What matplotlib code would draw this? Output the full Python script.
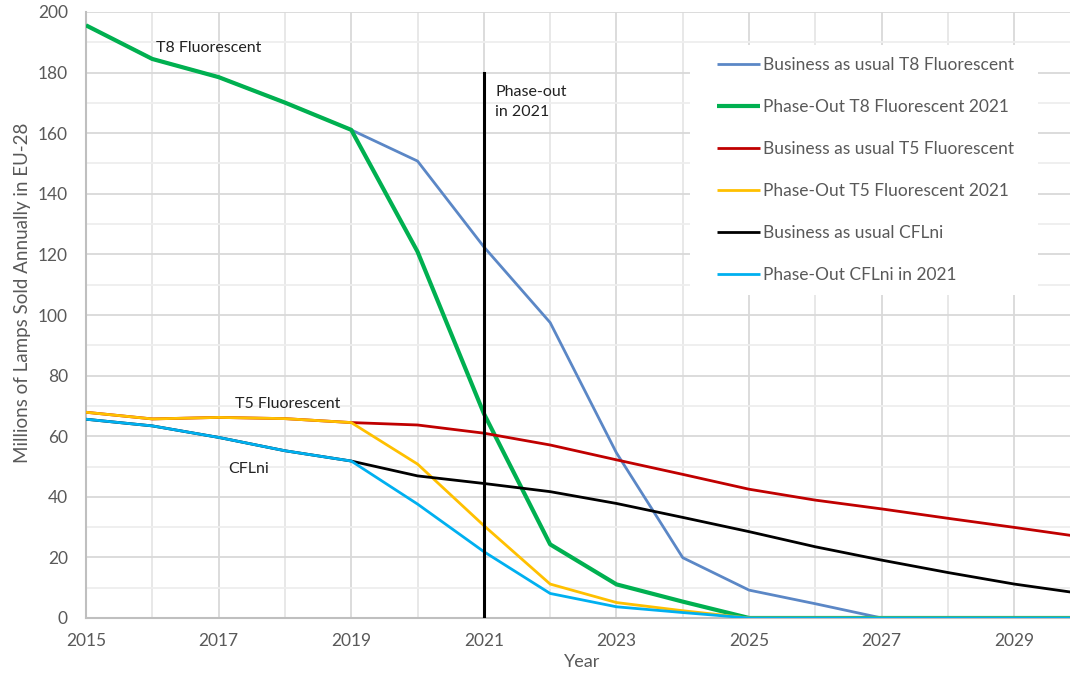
import matplotlib
matplotlib.use("Agg")
import matplotlib.pyplot as plt
from matplotlib.ticker import MultipleLocator, FixedLocator
from matplotlib.patches import Rectangle

years = list(range(2015, 2031))
bau_t8 = [195.6, 184.5, 178.5, 170.1, 161.1, 150.8, 122.5, 97.5, 54.5, 19.9, 9.2, 4.7, 0, 0, 0, 0]
po_t8 = [195.6, 184.5, 178.5, 170.1, 161.1, 120.9, 67.5, 24.3, 11.1, 5.4, 0, 0, 0, 0, 0, 0]
bau_t5 = [67.9, 65.7, 66.2, 65.8, 64.5, 63.7, 61.0, 57.1, 52.2, 47.4, 42.5, 38.9, 36.0, 32.9, 29.9, 26.8]
po_t5 = [67.9, 65.7, 66.2, 65.8, 64.5, 50.8, 30.5, 11.2, 5.1, 2.4, 0, 0, 0, 0, 0, 0]
bau_cfl = [65.6, 63.4, 59.6, 55.2, 51.8, 46.9, 44.4, 41.7, 37.8, 33.2, 28.5, 23.5, 19.1, 15.0, 11.2, 8.1]
po_cfl = [65.6, 63.4, 59.6, 55.2, 51.8, 37.6, 21.9, 8.1, 3.7, 1.8, 0, 0, 0, 0, 0, 0]
xtick_years = [2015, 2017, 2019, 2021, 2023, 2025, 2027, 2029]

labels = ["Business as usual T8 Fluorescent", "Phase-Out T8 Fluorescent 2021",
          "Business as usual T5 Fluorescent", "Phase-Out T5 Fluorescent 2021",
          "Business as usual CFLni", "Phase-Out CFLni in 2021"]
colors = ["#5b87c6", "#00b050", "#c00000", "#ffc000", "#000000", "#00b0f0"]
widths = [2.0, 3.0, 2.0, 2.0, 2.0, 2.0]
series = [bau_t8, po_t8, bau_t5, po_t5, bau_cfl, po_cfl]

plt.rcParams['font.family'] = ['Lato', 'DejaVu Sans']

fig = plt.figure(figsize=(10.70, 6.75), dpi=100)
ax = fig.add_axes([86/1070, 57/675, 1 - 86/1070, (618 - 12)/675])

handles = []
for vals, lab, c, w in zip(series, labels, colors, widths):
    h, = ax.plot(years, vals, color=c, lw=w, label=lab, solid_capstyle='butt', zorder=3)
    handles.append(h)

ax.plot([2021, 2021], [0, 180], color='black', lw=2.2, zorder=4)

ax.text(2021.17, 176.0, "Phase-out\nin 2021", fontsize=11.5, va='top', ha='left', color='#222222', linespacing=1.6)
ax.text(2016.05, 188.2, "T8 Fluorescent", fontsize=11.5, va='center', ha='left', color='#222222')
ax.text(2017.25, 70.6, "T5 Fluorescent", fontsize=11.5, va='center', ha='left', color='#222222')
ax.text(2017.14, 49.1, "CFLni", fontsize=11.5, va='center', ha='left', color='#222222')

ax.set_xlim(2015, 2029.84)
ax.set_ylim(0, 200)
ax.xaxis.set_major_locator(FixedLocator(xtick_years))
ax.xaxis.set_minor_locator(MultipleLocator(1))
ax.yaxis.set_major_locator(MultipleLocator(20))
ax.yaxis.set_minor_locator(MultipleLocator(10))
ax.grid(which='major', color='#d9d9d9', lw=1.3, zorder=0)
ax.grid(which='minor', axis='y', color='#eeeeee', lw=1.3, zorder=0)
ax.grid(which='minor', axis='x', color='#e6e6e6', lw=1.3, zorder=0)
ax.set_axisbelow(True)
ax.tick_params(which='both', length=0, labelsize=12.5, colors='#595959')
ax.tick_params(axis='x', pad=11)
ax.tick_params(axis='y', pad=13)

for s in ['top', 'right']:
    ax.spines[s].set_visible(False)
for s in ['left', 'bottom']:
    ax.spines[s].set_color('#bfbfbf')
    ax.spines[s].set_linewidth(1.5)

ax.set_xlabel("Year", fontsize=13, color='#595959', va='center')
ax.xaxis.set_label_coords((582-86)/984, (618-662)/606)
ax.set_ylabel("Millions of Lamps Sold Annually in EU-28", fontsize=13.5, color='#595959', va='center')
ax.yaxis.set_label_coords((22.5-86)/984, (618-293)/606)

# white legend background box
ax.add_patch(Rectangle(((690-86)/984, (618-295)/606), 348/984, (295-45)/606,
                       transform=ax.transAxes, facecolor='white', edgecolor='none', zorder=2))

leg = ax.legend(handles=handles, loc='upper left', bbox_to_anchor=((717-86)/984, (618-57)/606),
                frameon=False, fontsize=12.5, labelspacing=1.5, handlelength=2.47, handletextpad=0.2,
                borderpad=0, borderaxespad=0)
for t in leg.get_texts():
    t.set_color('#595959')
leg.set_zorder(5)

fig.savefig("out.png", dpi=100)
